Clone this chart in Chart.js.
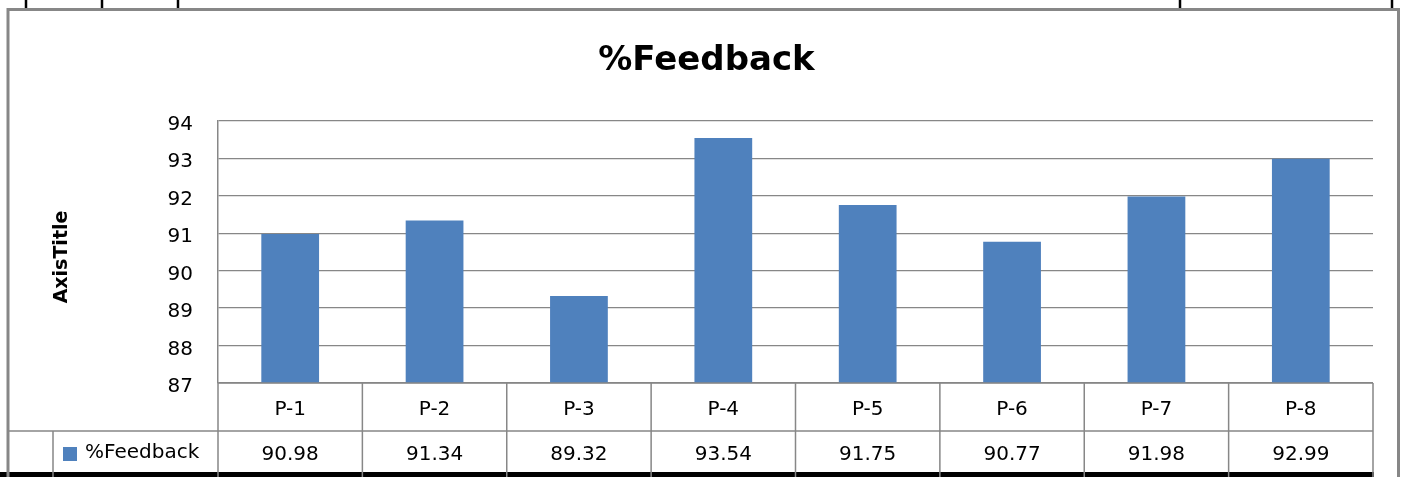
<!DOCTYPE html>
<html>
<head>
<meta charset="utf-8">
<script src="https://cdn.jsdelivr.net/npm/chart.js@4.4.0/dist/chart.umd.min.js"></script>
<style>
html,body{margin:0;padding:0;background:#fff;}
canvas{display:block;}
</style>
</head>
<body>
<canvas id="c" width="1405" height="477"></canvas>
<script>
const categories = ["P-1","P-2","P-3","P-4","P-5","P-6","P-7","P-8"];
const feedback = [90.98, 91.34, 89.32, 93.54, 91.75, 90.77, 91.98, 92.99];
const seriesName = "%Feedback";
const chartTitle = "%Feedback";
const axisTitle = "AxisTitle";
const yMin = 87, yMax = 94, yStep = 1;

const FONT = "'DejaVu Sans', sans-serif";
const GRAY = "#878787";
const BLUE = "#4F81BD";

const frame = {
  id: "frame",
  beforeDraw(chart) {
    const ctx = chart.ctx;
    ctx.save();
    ctx.fillStyle = "#fff";
    ctx.fillRect(0, 0, chart.width, chart.height);
    ctx.restore();
  },
  afterDraw(chart) {
    const ctx = chart.ctx;
    const xs = chart.scales.x;
    const area = chart.chartArea;
    const rowTop = area.bottom;
    const rowMid = 431;
    const rowBot = 472;
    ctx.save();
    ctx.strokeStyle = "#000";
    ctx.lineWidth = 2.5;
    [26, 102, 178, 1180, 1392].forEach(x => {
      ctx.beginPath(); ctx.moveTo(x, 0); ctx.lineTo(x, 9); ctx.stroke();
    });
    ctx.fillStyle = "#000";
    ctx.fillRect(0, rowBot, 1374, 6);
    ctx.strokeStyle = GRAY;
    ctx.lineWidth = 3;
    ctx.beginPath();
    ctx.moveTo(8, 490); ctx.lineTo(8, 9.5); ctx.lineTo(1398.5, 9.5); ctx.lineTo(1398.5, 490);
    ctx.stroke();
    ctx.lineWidth = 1.5;
    const n = categories.length;
    const cw = (area.right - area.left) / n;
    ctx.beginPath();
    ctx.moveTo(area.left, rowTop); ctx.lineTo(area.right, rowTop);
    ctx.moveTo(8, rowMid); ctx.lineTo(area.right, rowMid);
    ctx.moveTo(53, rowMid); ctx.lineTo(53, rowBot + 6);
    for (let i = 0; i <= n; i++) {
      const x = i < n ? xs.getPixelForValue(i) - cw / 2 : xs.getPixelForValue(n - 1) + cw / 2;
      ctx.moveTo(x, rowTop); ctx.lineTo(x, rowBot + 6);
    }
    ctx.stroke();
    ctx.fillStyle = "#000";
    ctx.font = "20px " + FONT;
    ctx.textAlign = "center";
    ctx.textBaseline = "alphabetic";
    categories.forEach((c, i) => {
      const x = xs.getPixelForValue(i);
      ctx.fillText(c, x, 415);
      ctx.fillText(feedback[i].toFixed(2), x, 460);
    });
    ctx.fillStyle = BLUE;
    ctx.fillRect(63, 447, 14, 14);
    ctx.fillStyle = "#000";
    ctx.textAlign = "left";
    ctx.fillText(seriesName, 85, 458);
    // axis title
    ctx.save();
    ctx.font = "bold 19px " + FONT;
    ctx.textAlign = "center";
    ctx.textBaseline = "middle";
    ctx.translate(62, 257);
    ctx.rotate(-Math.PI / 2);
    ctx.fillText(axisTitle, 0, 0);
    ctx.restore();
    ctx.restore();
  }
};

new Chart(document.getElementById("c"), {
  type: "bar",
  data: {
    labels: categories,
    datasets: [{
      label: seriesName,
      data: feedback,
      backgroundColor: BLUE,
      borderWidth: 0,
      barPercentage: 0.4,
      categoryPercentage: 1.0
    }]
  },
  options: {
    responsive: false,
    animation: false,
    devicePixelRatio: 1,
    layout: { padding: { left: 40, right: 32, top: 0, bottom: 94 } },
    plugins: {
      legend: { display: false },
      tooltip: { enabled: false },
      title: {
        display: true,
        text: chartTitle,
        color: "#000",
        font: { family: FONT, size: 34, weight: "bold" },
        padding: { top: 41, bottom: 39 }
      }
    },
    scales: {
      x: {
        display: false,
        offset: true
      },
      y: {
        min: yMin,
        max: yMax,
        afterFit(scale) { scale.width = 178; },
        ticks: {
          stepSize: yStep,
          color: "#000",
          padding: 25,
          labelOffset: 4,
          font: { family: FONT, size: 20 }
        },
        grid: { color: GRAY, lineWidth: 1.3, drawTicks: false },
        border: { display: true, color: GRAY, width: 1.5 }
      }
    }
  },
  plugins: [frame]
});
</script>
</body>
</html>
